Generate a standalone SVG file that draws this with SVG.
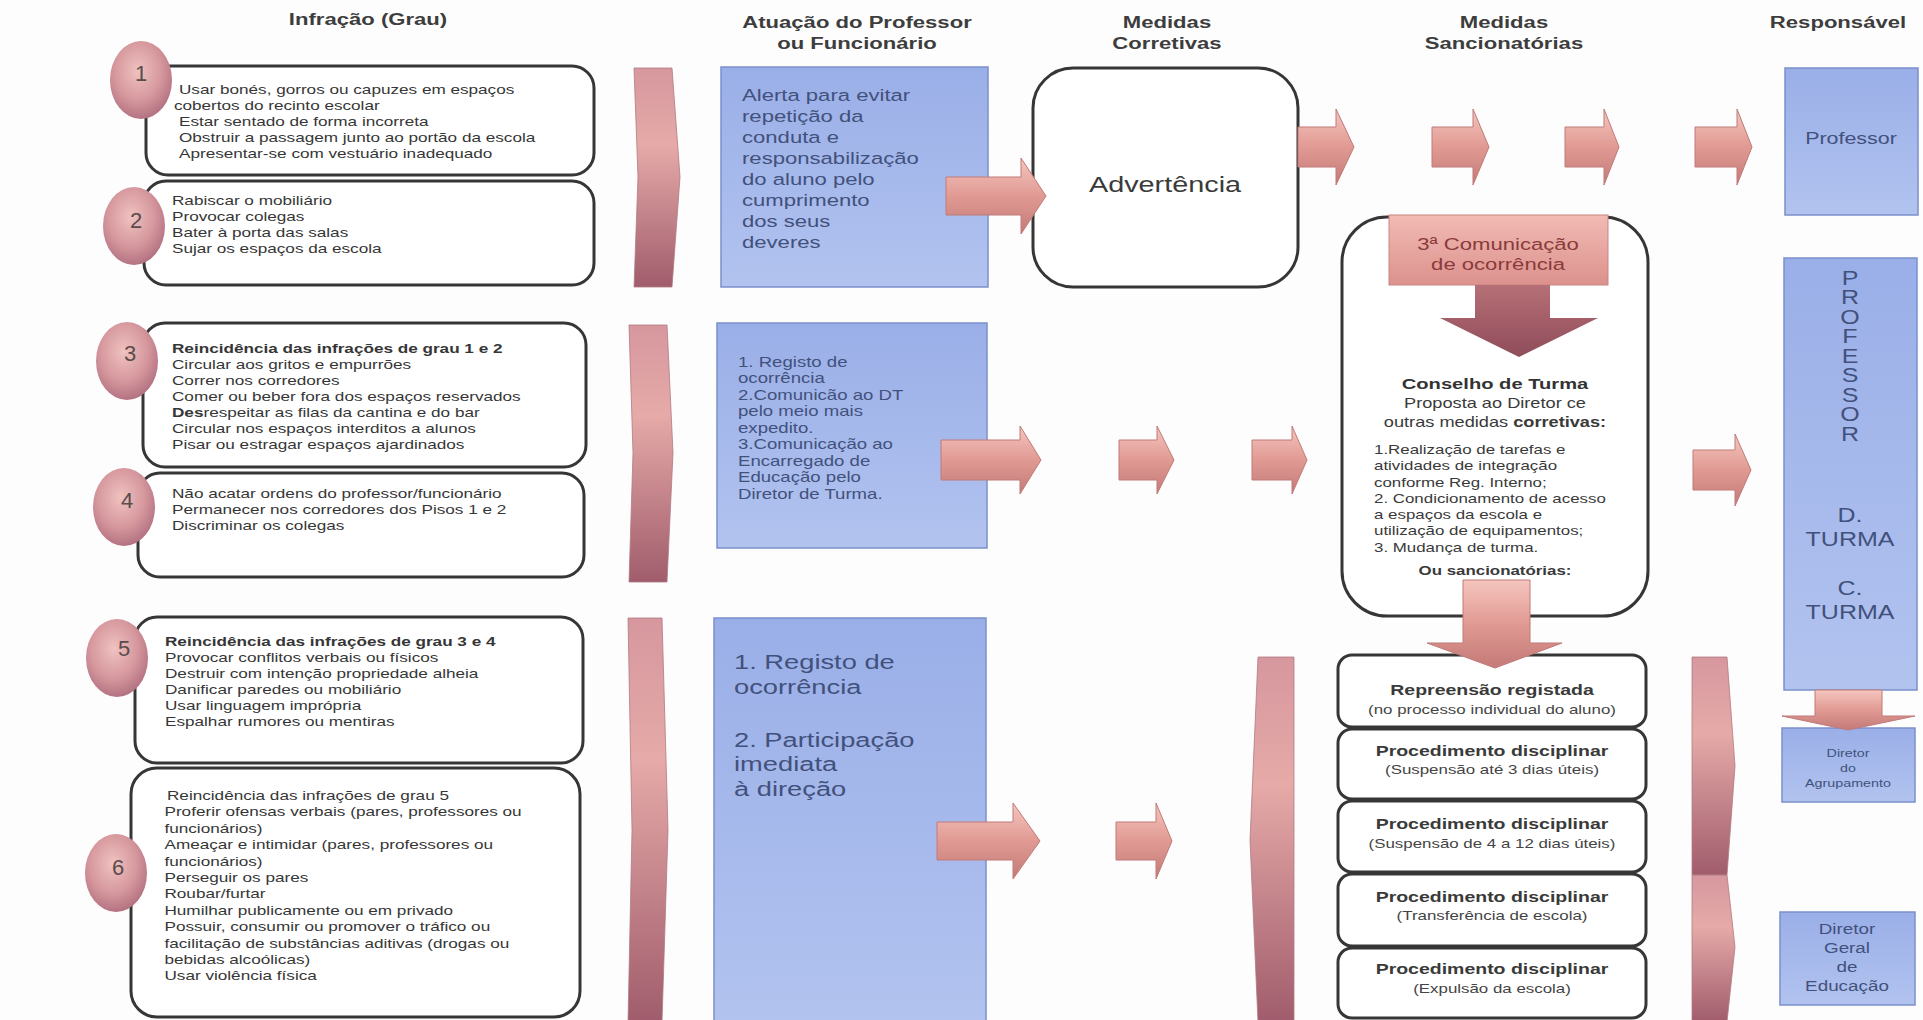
<svg xmlns="http://www.w3.org/2000/svg" width="1923" height="1020" viewBox="0 0 1923 1020">
<defs>
<radialGradient id="gCirc" cx="0.45" cy="0.38" r="0.7">
<stop offset="0" stop-color="#f0c2c0"/>
<stop offset="0.55" stop-color="#d5979d"/>
<stop offset="1" stop-color="#a96678"/>
</radialGradient>
<linearGradient id="gBar" x1="0" y1="0" x2="0" y2="1">
<stop offset="0" stop-color="#d6979e"/>
<stop offset="0.35" stop-color="#e6aaa8"/>
<stop offset="1" stop-color="#a05c6c"/>
</linearGradient>
<linearGradient id="gArrow" x1="0" y1="0" x2="0" y2="1">
<stop offset="0" stop-color="#f5c6bf"/>
<stop offset="0.5" stop-color="#e09a93"/>
<stop offset="1" stop-color="#c47a78"/>
</linearGradient>
<linearGradient id="gBlue" x1="0" y1="0" x2="0" y2="1">
<stop offset="0" stop-color="#9aafe8"/>
<stop offset="1" stop-color="#b2c3ef"/>
</linearGradient>
<linearGradient id="gPink" x1="0" y1="0" x2="0" y2="1">
<stop offset="0" stop-color="#f2bbb4"/>
<stop offset="1" stop-color="#dc918d"/>
</linearGradient>
<linearGradient id="gDark" x1="0" y1="0" x2="0" y2="1">
<stop offset="0" stop-color="#b56f76"/>
<stop offset="1" stop-color="#8f4c5a"/>
</linearGradient>
</defs>
<style>
text{font-family:'Liberation Sans',Arial,sans-serif}
.hdr{font-weight:bold;font-size:17px;fill:#3d3d3d;text-anchor:middle}
.box{fill:#fff;stroke:#363636;stroke-width:3}
.t{font-size:13.5px;fill:#363636}
.b{font-weight:bold}
.num{font-size:22px;fill:#5a4c4c;text-anchor:middle}
.blue{fill:url(#gBlue);stroke:#7b90cb;stroke-width:1.5}
.bt{fill:#42517c}
.mid{text-anchor:middle}
.arr{fill:url(#gArrow);stroke:#c07a78;stroke-width:1}
.bar{fill:url(#gBar);stroke:#b07a80;stroke-width:0.8}
.circ{fill:url(#gCirc)}
.st{font-size:15px;font-weight:bold;fill:#3a3a3a;text-anchor:middle}
.ss{font-size:13px;fill:#444;text-anchor:middle}
</style>
<rect width="1923" height="1020" fill="#fdfdfd"/>

<g id="headers">
<text class="hdr" transform="translate(368,25) scale(1.3,1)">Infração (Grau)</text>
<text class="hdr" transform="translate(857,28) scale(1.3,1)">Atuação do Professor</text>
<text class="hdr" transform="translate(857,49) scale(1.3,1)">ou Funcionário</text>
<text class="hdr" transform="translate(1167,28) scale(1.3,1)">Medidas</text>
<text class="hdr" transform="translate(1167,49) scale(1.3,1)">Corretivas</text>
<text class="hdr" transform="translate(1504,28) scale(1.3,1)">Medidas</text>
<text class="hdr" transform="translate(1504,49) scale(1.3,1)">Sancionatórias</text>
<text class="hdr" transform="translate(1838,28) scale(1.3,1)">Responsável</text>
</g>

<g id="grau1">
<rect class="box" x="146" y="66" width="448" height="109" rx="22"/>
<ellipse class="circ" cx="141" cy="80" rx="31" ry="39"/>
<text class="num" x="141" y="81">1</text>
<text class="t" transform="translate(179,94) scale(1.27,1)"><tspan x="0" y="0">Usar bonés, gorros ou capuzes em espaços</tspan><tspan x="-4" y="16">cobertos do recinto escolar</tspan><tspan x="0" y="32">Estar sentado de forma incorreta</tspan><tspan x="0" y="48">Obstruir a passagem junto ao portão da escola</tspan><tspan x="0" y="64">Apresentar-se com vestuário inadequado</tspan></text>
</g>

<g id="grau2">
<rect class="box" x="144" y="181" width="450" height="104" rx="22"/>
<ellipse class="circ" cx="134" cy="226" rx="31" ry="39"/>
<text class="num" x="136" y="228">2</text>
<text class="t" transform="translate(172,205) scale(1.27,1)"><tspan x="0" y="0">Rabiscar o mobiliário</tspan><tspan x="0" y="16">Provocar colegas</tspan><tspan x="0" y="32">Bater à porta das salas</tspan><tspan x="0" y="48">Sujar os espaços da escola</tspan></text>
</g>

<g id="grau3">
<rect class="box" x="143" y="323" width="443" height="144" rx="22"/>
<ellipse class="circ" cx="127" cy="361" rx="31" ry="39"/>
<text class="num" x="130" y="361">3</text>
<text class="t" transform="translate(172,353) scale(1.27,1)"><tspan x="0" y="0" class="b">Reincidência das infrações de grau 1 e 2</tspan><tspan x="0" y="16">Circular aos gritos e empurrões</tspan><tspan x="0" y="32">Correr nos corredores</tspan><tspan x="0" y="48">Comer ou beber fora dos espaços reservados</tspan><tspan x="0" y="64"><tspan class="b">Des</tspan>respeitar as filas da cantina e do bar</tspan><tspan x="0" y="80">Circular nos espaços interditos a alunos</tspan><tspan x="0" y="96">Pisar ou estragar espaços ajardinados</tspan></text>
</g>

<g id="grau4">
<rect class="box" x="138" y="473" width="446" height="104" rx="22"/>
<ellipse class="circ" cx="124" cy="507" rx="31" ry="39"/>
<text class="num" x="127" y="508">4</text>
<text class="t" transform="translate(172,498) scale(1.27,1)"><tspan x="0" y="0">Não acatar ordens do professor/funcionário</tspan><tspan x="0" y="16">Permanecer nos corredores dos Pisos 1 e 2</tspan><tspan x="0" y="32">Discriminar os colegas</tspan></text>
</g>

<g id="grau5">
<rect class="box" x="135" y="617" width="448" height="146" rx="22"/>
<ellipse class="circ" cx="117" cy="658" rx="31" ry="39"/>
<text class="num" x="124" y="656">5</text>
<text class="t" transform="translate(165,646) scale(1.27,1)"><tspan x="0" y="0" class="b">Reincidência das infrações de grau 3 e 4</tspan><tspan x="0" y="16">Provocar conflitos verbais ou físicos</tspan><tspan x="0" y="32">Destruir com intenção propriedade alheia</tspan><tspan x="0" y="48">Danificar paredes ou mobiliário</tspan><tspan x="0" y="64">Usar linguagem imprópria</tspan><tspan x="0" y="80">Espalhar rumores ou mentiras</tspan></text>
</g>

<g id="grau6">
<rect class="box" x="131" y="768" width="449" height="249" rx="26"/>
<ellipse class="circ" cx="116" cy="873" rx="31" ry="39"/>
<text class="num" x="118" y="875">6</text>
<text class="t" transform="translate(167,800) scale(1.27,1)"><tspan x="0" y="0">Reincidência das infrações de grau 5</tspan><tspan x="-2" y="16.4">Proferir ofensas verbais (pares, professores ou</tspan><tspan x="-2" y="32.8">funcionários)</tspan><tspan x="-2" y="49.2">Ameaçar e intimidar (pares, professores ou</tspan><tspan x="-2" y="65.6">funcionários)</tspan><tspan x="-2" y="82">Perseguir os pares</tspan><tspan x="-2" y="98.4">Roubar/furtar</tspan><tspan x="-2" y="114.8">Humilhar publicamente ou em privado</tspan><tspan x="-2" y="131.2">Possuir, consumir ou promover o tráfico ou</tspan><tspan x="-2" y="147.6">facilitação de substâncias aditivas (drogas ou</tspan><tspan x="-2" y="164">bebidas alcoólicas)</tspan><tspan x="-2" y="180.4">Usar violência física</tspan></text>
</g>

<g id="atuacao1">
<rect class="blue" x="721" y="67" width="267" height="220"/>
<text class="bt" font-size="17" transform="translate(742,101) scale(1.3,1)"><tspan x="0" y="0">Alerta para evitar</tspan><tspan x="0" y="21">repetição da</tspan><tspan x="0" y="42">conduta e</tspan><tspan x="0" y="63">responsabilização</tspan><tspan x="0" y="84">do aluno pelo</tspan><tspan x="0" y="105">cumprimento</tspan><tspan x="0" y="126">dos seus</tspan><tspan x="0" y="147">deveres</tspan></text>
</g>

<g id="atuacao2">
<rect class="blue" x="717" y="323" width="270" height="225"/>
<text class="bt" font-size="14.3" transform="translate(738,367) scale(1.3,1)"><tspan x="0" y="0">1. Registo de</tspan><tspan x="0" y="16.5">ocorrência</tspan><tspan x="0" y="33">2.Comunicão ao DT</tspan><tspan x="0" y="49.5">pelo meio mais</tspan><tspan x="0" y="66">expedito.</tspan><tspan x="0" y="82.5">3.Comunicação ao</tspan><tspan x="0" y="99">Encarregado de</tspan><tspan x="0" y="115.5">Educação pelo</tspan><tspan x="0" y="132">Diretor de Turma.</tspan></text>
</g>

<g id="atuacao3">
<rect class="blue" x="714" y="618" width="272" height="410"/>
<text class="bt" font-size="21" transform="translate(734,669) scale(1.3,1)"><tspan x="0" y="0">1. Registo de</tspan><tspan x="0" y="25">ocorrência</tspan><tspan x="0" y="78">2. Participação</tspan><tspan x="0" y="102">imediata</tspan><tspan x="0" y="127">à direção</tspan></text>
</g>

<g id="advertencia">
<rect class="box" x="1033" y="68" width="265" height="219" rx="40"/>
<text font-size="22" fill="#3a3a3a" class="mid" transform="translate(1165,192) scale(1.31,1)">Advertência</text>
</g>

<g id="conselho">
<rect class="box" x="1342" y="217" width="306" height="399" rx="45"/>
<rect x="1389" y="215" width="219" height="70" fill="url(#gPink)" stroke="#c98580" stroke-width="1"/>
<text font-size="17" fill="#8a3b3b" class="mid" transform="translate(1498,250) scale(1.3,1)"><tspan x="0" y="0">3ª Comunicação</tspan><tspan x="0" y="20">de ocorrência</tspan></text>
<text font-size="15.5" font-weight="bold" fill="#333" class="mid" transform="translate(1495,389) scale(1.3,1)">Conselho de Turma</text>
<text font-size="14" fill="#3a3a3a" class="mid" transform="translate(1495,408) scale(1.3,1)"><tspan x="0" y="0">Proposta ao Diretor ce</tspan><tspan x="0" y="19">outras medidas <tspan font-weight="bold">corretivas:</tspan></tspan></text>
<text font-size="13" fill="#3a3a3a" transform="translate(1374,454) scale(1.3,1)"><tspan x="0" y="0">1.Realização de tarefas e</tspan><tspan x="0" y="16.3">atividades de integração</tspan><tspan x="0" y="32.6">conforme Reg. Interno;</tspan><tspan x="0" y="48.9">2. Condicionamento de acesso</tspan><tspan x="0" y="65.2">a espaços da escola e</tspan><tspan x="0" y="81.5">utilização de equipamentos;</tspan><tspan x="0" y="97.8">3. Mudança de turma.</tspan></text>
<text font-size="13" font-weight="bold" fill="#3a3a3a" class="mid" transform="translate(1495,575) scale(1.3,1)">Ou sancionatórias:</text>
</g>

<g id="repreensao">
<rect class="box" x="1338" y="655" width="308" height="72" rx="14"/>
<text class="st" transform="translate(1492,695) scale(1.3,1)">Repreensão registada</text>
<text class="ss" transform="translate(1492,714) scale(1.3,1)">(no processo individual do aluno)</text>
</g>
<g id="proc1">
<rect class="box" x="1338" y="729" width="308" height="70" rx="14"/>
<text class="st" transform="translate(1492,756) scale(1.3,1)">Procedimento disciplinar</text>
<text class="ss" transform="translate(1492,774) scale(1.3,1)">(Suspensão até 3 dias úteis)</text>
</g>
<g id="proc2">
<rect class="box" x="1338" y="801" width="308" height="71" rx="14"/>
<text class="st" transform="translate(1492,829) scale(1.3,1)">Procedimento disciplinar</text>
<text class="ss" transform="translate(1492,848) scale(1.3,1)">(Suspensão de 4 a 12 dias úteis)</text>
</g>
<g id="proc3">
<rect class="box" x="1338" y="874" width="308" height="72" rx="14"/>
<text class="st" transform="translate(1492,902) scale(1.3,1)">Procedimento disciplinar</text>
<text class="ss" transform="translate(1492,920) scale(1.3,1)">(Transferência de escola)</text>
</g>
<g id="proc4">
<rect class="box" x="1338" y="948" width="308" height="70" rx="14"/>
<text class="st" transform="translate(1492,974) scale(1.3,1)">Procedimento disciplinar</text>
<text class="ss" transform="translate(1492,993) scale(1.3,1)">(Expulsão da escola)</text>
</g>

<g id="resp-professor">
<rect class="blue" x="1785" y="68" width="133" height="147"/>
<text class="bt mid" font-size="16.5" transform="translate(1851,144) scale(1.3,1)">Professor</text>
</g>
<g id="resp-turma">
<rect class="blue" x="1784" y="258" width="133" height="432"/>
<text class="bt mid" font-size="20" transform="translate(1850,285) scale(1.25,1)"><tspan x="0" y="0">P</tspan><tspan x="0" y="19.5">R</tspan><tspan x="0" y="39">O</tspan><tspan x="0" y="58.5">F</tspan><tspan x="0" y="78">E</tspan><tspan x="0" y="97.5">S</tspan><tspan x="0" y="117">S</tspan><tspan x="0" y="136.5">O</tspan><tspan x="0" y="156">R</tspan><tspan x="0" y="237">D.</tspan><tspan x="0" y="261">TURMA</tspan><tspan x="0" y="310">C.</tspan><tspan x="0" y="334">TURMA</tspan></text>
</g>
<g id="resp-agrupamento">
<rect class="blue" x="1782" y="728" width="133" height="74"/>
<text class="bt mid" font-size="11" transform="translate(1848,757) scale(1.3,1)"><tspan x="0" y="0">Diretor</tspan><tspan x="0" y="15">do</tspan><tspan x="0" y="30">Agrupamento</tspan></text>
</g>
<g id="resp-geral">
<rect class="blue" x="1780" y="912" width="135" height="93"/>
<text class="bt mid" font-size="14.5" transform="translate(1847,934) scale(1.3,1)"><tspan x="0" y="0">Diretor</tspan><tspan x="0" y="19">Geral</tspan><tspan x="0" y="38">de</tspan><tspan x="0" y="57">Educação</tspan></text>
</g>

<g id="connectors">
<polygon class="bar" points="634,68 672,68 680,177 672,287 634,287 638,177"/>
<polygon class="bar" points="629,325 667,325 673,453 667,582 629,582 633,453"/>
<polygon class="bar" points="628,618 662,618 668,830 662,1022 628,1022 632,830"/>
<polygon class="bar" points="1258,657 1294,657 1294,1022 1258,1022 1250,840"/>
<polygon class="bar" points="1692,657 1727,657 1735,766 1727,875 1692,875"/>
<polygon class="bar" points="1692,875 1727,875 1735,947 1727,1022 1692,1022"/>
<path class="arr" d="M946,177 L1021,177 L1021,158 L1046,196 L1021,234 L1021,215 L946,215 Z"/>
<path class="arr" d="M1298,127 L1336,127 L1336,109 L1354,147 L1336,185 L1336,167 L1298,167 Z"/>
<path class="arr" d="M1432,127 L1473,127 L1473,109 L1489,147 L1473,185 L1473,167 L1432,167 Z"/>
<path class="arr" d="M1565,127 L1604,127 L1604,109 L1619,147 L1604,185 L1604,167 L1565,167 Z"/>
<path class="arr" d="M1695,127 L1737,127 L1737,109 L1752,147 L1737,185 L1737,167 L1695,167 Z"/>
<path class="arr" d="M941,440 L1020,440 L1020,426 L1041,460 L1020,494 L1020,480 L941,480 Z"/>
<path class="arr" d="M1119,440 L1157,440 L1157,426 L1174,460 L1157,494 L1157,480 L1119,480 Z"/>
<path class="arr" d="M1252,440 L1292,440 L1292,426 L1307,460 L1292,494 L1292,480 L1252,480 Z"/>
<path class="arr" d="M1693,450 L1735,450 L1735,434 L1751,470 L1735,506 L1735,490 L1693,490 Z"/>
<path class="arr" d="M937,822 L1013,822 L1013,803 L1040,841 L1013,879 L1013,860 L937,860 Z"/>
<path class="arr" d="M1116,822 L1156,822 L1156,803 L1172,841 L1156,879 L1156,860 L1116,860 Z"/>
<path fill="url(#gDark)" d="M1475,285 L1550,285 L1550,318 L1598,318 L1519,357 L1440,318 L1475,318 Z"/>
<path class="arr" d="M1463,580 L1530,580 L1530,643 L1562,643 L1495,668 L1427,643 L1463,643 Z"/>
<path class="arr" d="M1815,690 L1882,690 L1882,716 L1915,716 L1848,730 L1782,716 L1815,716 Z"/>
</g>
</svg>
